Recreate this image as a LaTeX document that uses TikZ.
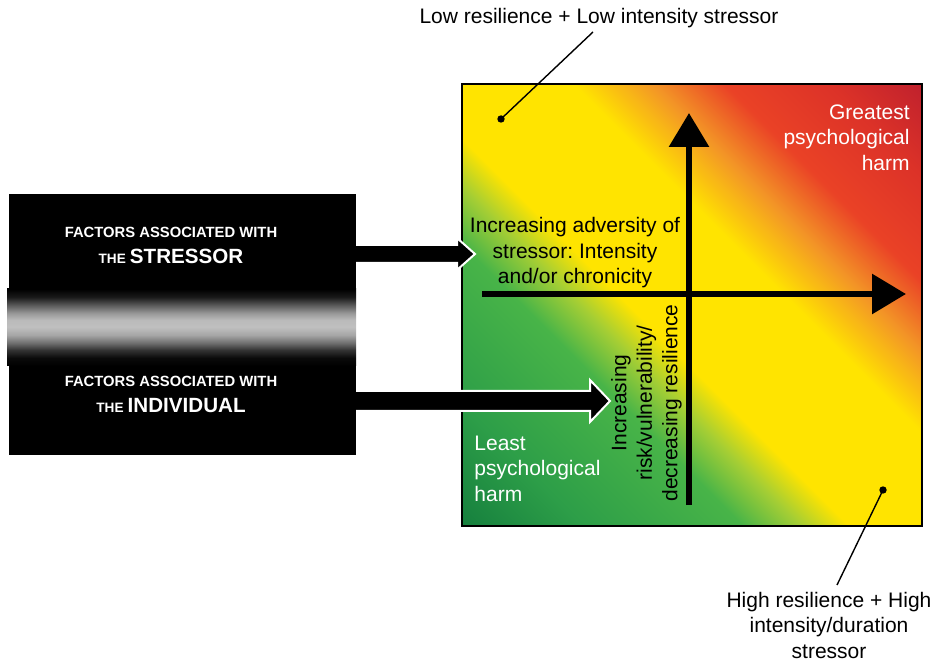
\documentclass[tikz,border=0pt]{standalone}
\usepackage{fontspec}
\setmainfont{Liberation Sans}
\usetikzlibrary{arrows.meta}
\frenchspacing

% colours of the harm field, from the bottom-left to the top-right corner
\definecolor{gA}{RGB}{22,128,62}
\definecolor{gB}{RGB}{45,158,72}
\definecolor{gC}{RGB}{72,180,72}
\definecolor{gD}{RGB}{165,206,52}
\definecolor{yel}{RGB}{255,228,0}
\definecolor{org}{RGB}{243,150,38}
\definecolor{redA}{RGB}{234,66,38}
\definecolor{redB}{RGB}{220,50,40}
\definecolor{redC}{RGB}{192,33,45}

% diagonal field: the visible part of a 45 degree shading runs from 14.64bp to 85.36bp
\pgfdeclarehorizontalshading{harm}{100bp}{%
  color(0bp)=(gA); color(14.64bp)=(gA); color(24bp)=(gB);
  color(36.6bp)=(gC); color(41.2bp)=(gD); color(45bp)=(yel);
  color(58bp)=(yel); color(64.3bp)=(org); color(70bp)=(redA);
  color(78.3bp)=(redB); color(85.36bp)=(redC); color(100bp)=(redC)}

% soft grey band between the two factor groups
\pgfdeclareverticalshading{band}{100bp}{%
  color(0bp)=(black); color(25bp)=(black); color(30.2bp)=(white!4!black);
  color(35.4bp)=(white!20!black); color(39.9bp)=(white!43!black);
  color(45.1bp)=(white!65!black); color(50.3bp)=(white!75!black);
  color(54.9bp)=(white!73!black); color(59.4bp)=(white!59!black);
  color(64.6bp)=(white!35!black); color(69.8bp)=(white!10!black);
  color(75bp)=(black); color(100bp)=(black)}

\begin{document}
\begin{tikzpicture}[x=0.5pt,y=-0.5pt,
  txt/.style={font=\fontsize{10.5pt}{12.75pt}\selectfont, inner sep=0pt},
  boxlbl/.style={font=\bfseries\fontsize{7.4pt}{13pt}\selectfont, text=white,
    align=center, inner sep=0pt},
  axis/.style={line width=3pt, -{Triangle[length=17pt,width=19.5pt]}},
  blockarrow/.style={fill=black, draw=white, line width=1pt, miter limit=10},
  leader/.style={line width=0.7pt},
  dot/.style={circle, fill=black, inner sep=0pt, minimum size=3.7pt},
]
\useasboundingbox (0,0) rectangle (937,662);

% harm field
\node[shade, shading=harm, shading angle=45, draw=black, line width=1pt,
  minimum width=230pt, minimum height=221pt, inner sep=0pt] (grid) at (692,305) {};

% axes
\coordinate (xs) at (482,294);
\coordinate (xe) at (906,294);
\coordinate (ys) at (689,505);
\coordinate (ye) at (689,113);
\draw[axis] (xs) -- (xe);
\draw[axis] (ys) -- (ye);

% field labels
\node[txt, align=center] (adv) at (575,252.8)
  {Increasing adversity of\\stressor: Intensity\\and/or chronicity};
\node[txt, align=right, text=white, anchor=east] (great) at (910,137.6)
  {Greatest\\psychological\\harm};
\node[txt, align=left, text=white, anchor=west] (least) at (474,468.6)
  {Least\\psychological\\harm};
\node[txt, align=center, rotate=90] (risk) at (646.4,403)
  {Increasing\\risk/vulnerability/\\decreasing resilience};

% corner call-outs
\node[dot] (lowdot) at (501,119) {};
\node[dot] (highdot) at (883,490) {};
\node[txt, anchor=base] (lowlbl) at (599,24) {Low resilience + Low intensity stressor};
\node[txt, align=center] (highlbl) at (829,625.2)
  {High resilience + High\\intensity/duration\\stressor};
\coordinate (lowend) at (593,32);
\coordinate (highend) at (837,585);
\draw[leader] (lowdot.center) -- (lowend);
\draw[leader] (highdot.center) -- (highend);

% block arrows; their tails are hidden under the factor box
\coordinate (sTail) at (340,254);
\coordinate (sTip) at (475,254);
\coordinate (iTail) at (340,401);
\coordinate (iTip) at (610,401);
\path[blockarrow] (sTail) ++(0,-9) -- ++(117,0) -- ++(0,-7) -- (sTip)
  -- ++(-18,16) -- ++(0,-7) -- ++(-117,0) -- cycle;
\path[blockarrow] (iTail) ++(0,-10) -- ++(250,0) -- ++(0,-11) -- (iTip)
  -- ++(-20,21) -- ++(0,-11) -- ++(-250,0) -- cycle;

% factor box
\node[fill=black, minimum width=173.5pt, minimum height=130.5pt, inner sep=0pt]
  (factors) at (182.5,324.5) {};
\shade[shading=band] (7,289) rectangle (356,366);
\node[boxlbl] (stressor) at (171,245.6)
  {FACTORS ASSOCIATED WITH\\{\fontsize{6.8pt}{13pt}\selectfont THE}
   {\fontsize{10.3pt}{13pt}\selectfont STRESSOR}};
\node[boxlbl] (individual) at (171,394.1)
  {FACTORS ASSOCIATED WITH\\{\fontsize{6.8pt}{13pt}\selectfont THE}
   {\fontsize{10.3pt}{13pt}\selectfont INDIVIDUAL}};
\end{tikzpicture}
\end{document}
